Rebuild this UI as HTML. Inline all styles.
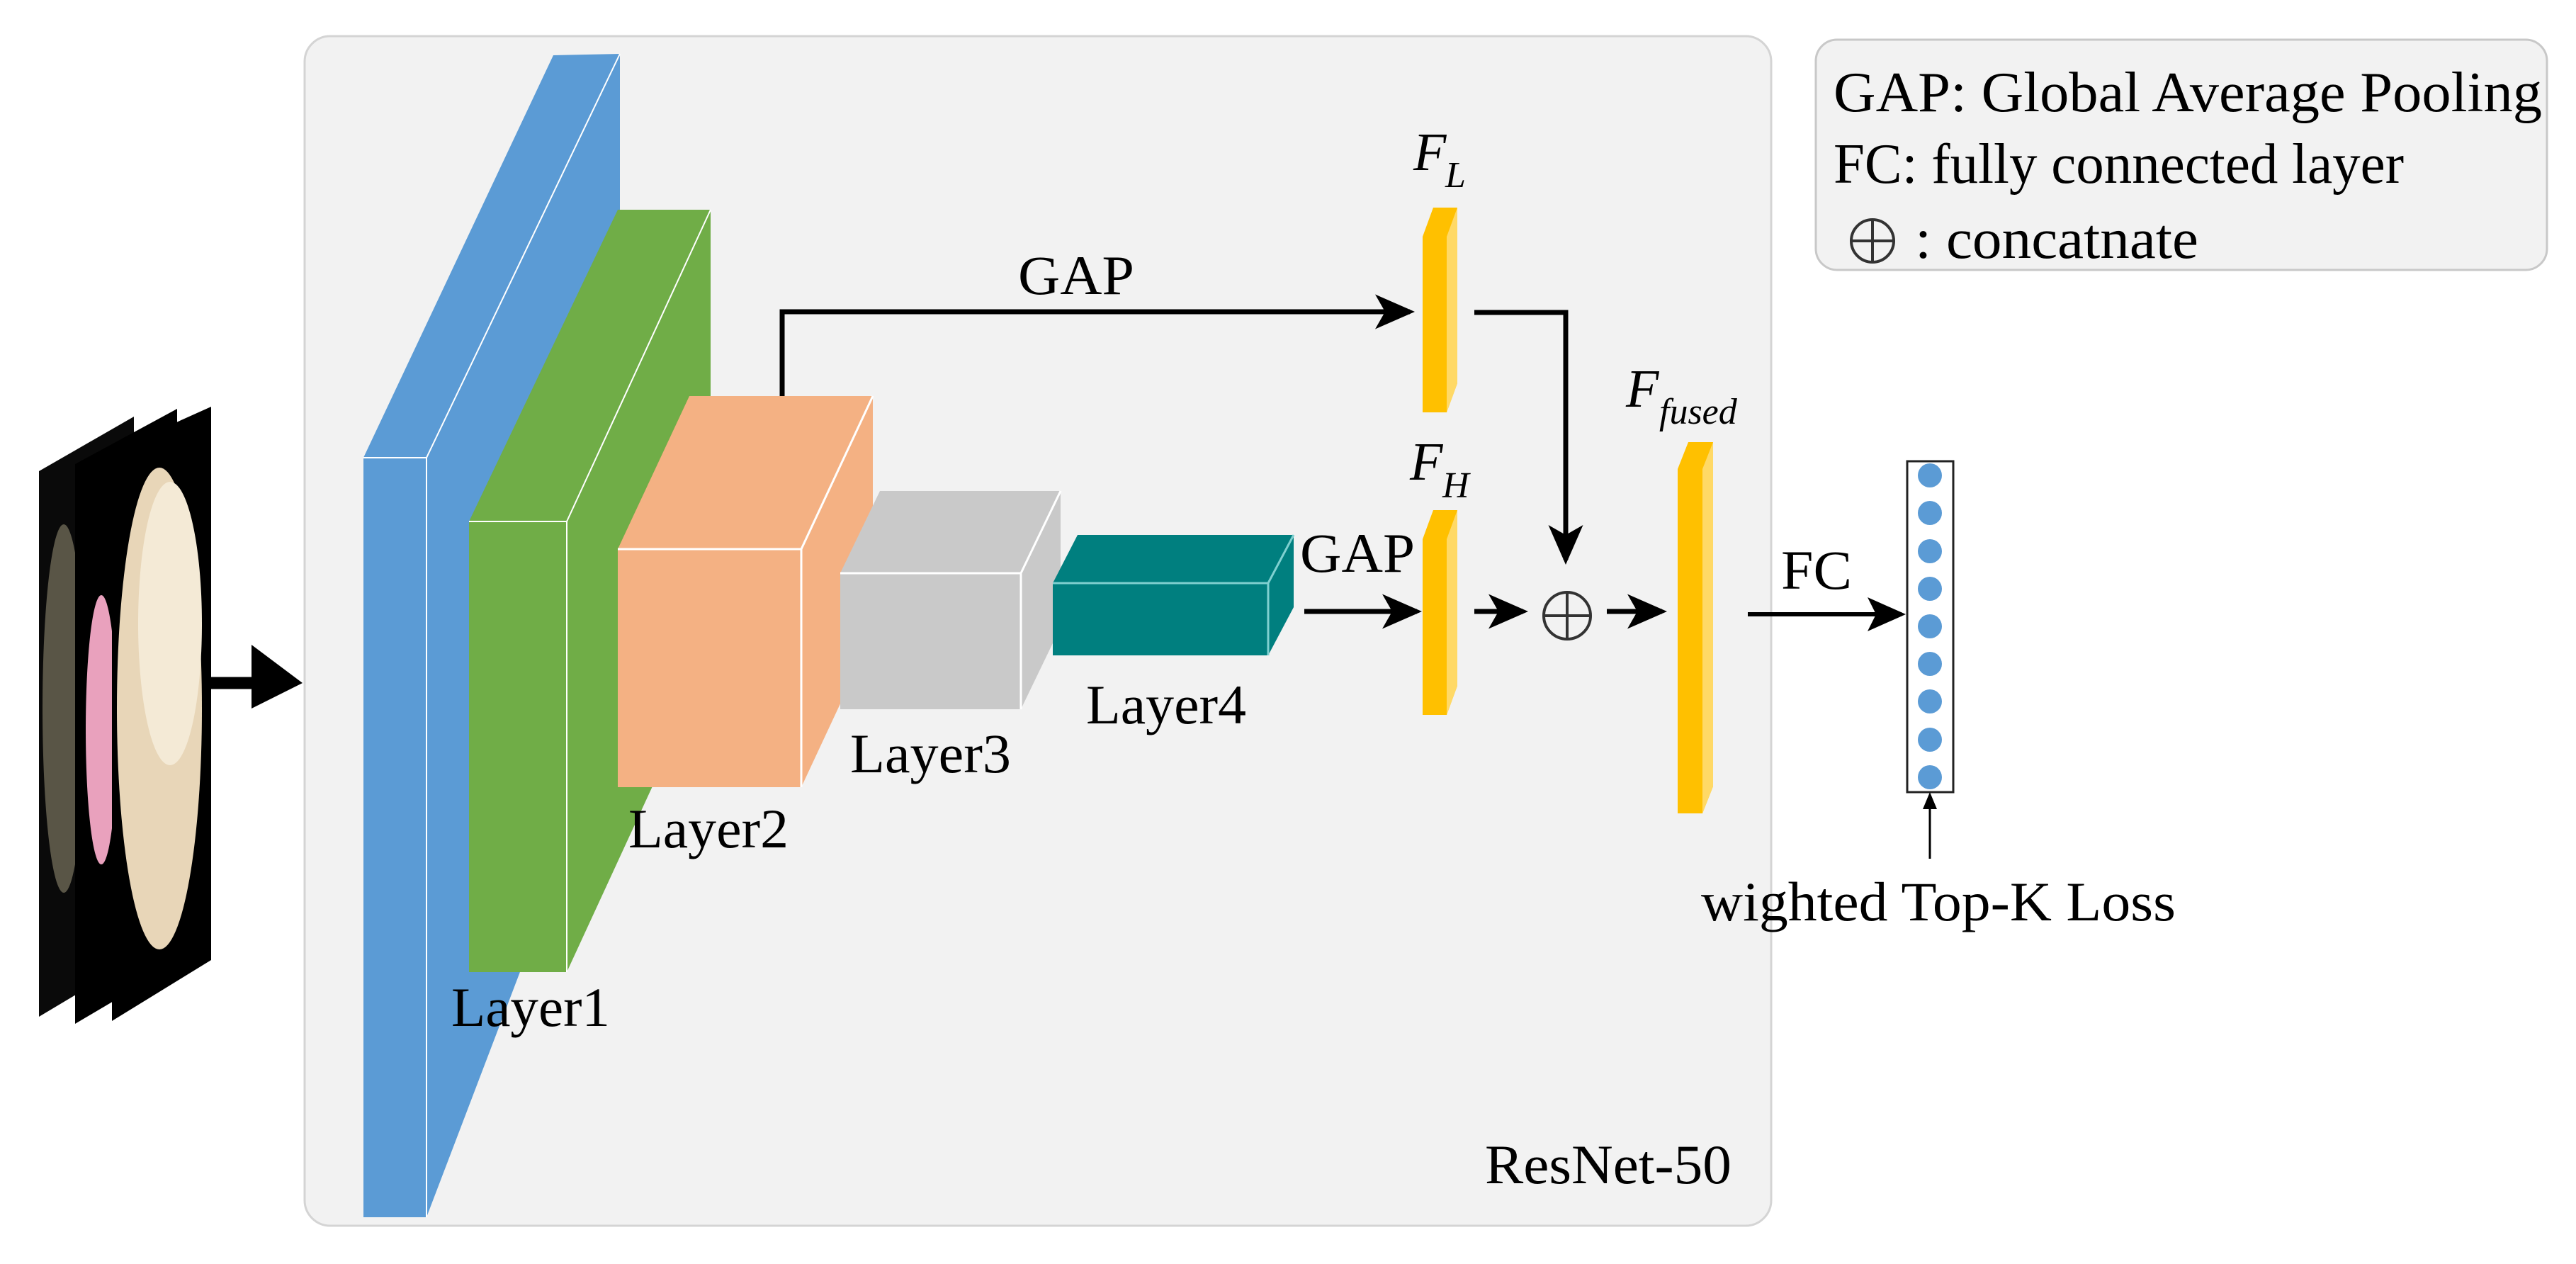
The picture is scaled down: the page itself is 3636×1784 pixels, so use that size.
<!DOCTYPE html>
<html><head><style>html,body{margin:0;padding:0;background:#fff}svg{display:block;font-family:"Liberation Serif","DejaVu Serif",serif}</style></head><body>
<svg width="3636" height="1784" viewBox="0 0 3636 1784" xmlns="http://www.w3.org/2000/svg">
<defs>
<marker id="ah" markerWidth="8" markerHeight="7" refX="7" refY="3.5" orient="auto" markerUnits="strokeWidth"><path d="M0,0 L8,3.5 L0,7 L2,3.5 Z" fill="#000"/></marker>
<marker id="ah2" markerWidth="9" markerHeight="8" refX="8" refY="4" orient="auto" markerUnits="strokeWidth"><path d="M0,0 L9,4 L0,8 L2,4 Z" fill="#000"/></marker>
</defs>
<rect x="0" y="0" width="3636" height="1784" fill="#fff"/>
<rect x="430" y="51" width="2070" height="1679" rx="36" fill="#f2f2f2" stroke="#d4d4d4" stroke-width="3"/>
<rect x="2563" y="56" width="1032" height="325" rx="30" fill="#f2f2f2" stroke="#c8c8c8" stroke-width="3"/>
<text x="2588" y="157" font-size="80" textLength="1000" lengthAdjust="spacingAndGlyphs">GAP: Global Average Pooling</text>
<text x="2588" y="258" font-size="80" textLength="805" lengthAdjust="spacingAndGlyphs">FC: fully connected layer</text>
<circle cx="2643" cy="340" r="30" fill="none" stroke="#333" stroke-width="4"/>
<line x1="2613" y1="340" x2="2673" y2="340" stroke="#333" stroke-width="4"/><line x1="2643" y1="310" x2="2643" y2="370" stroke="#333" stroke-width="4"/>
<text x="2703" y="364" font-size="80" textLength="400" lengthAdjust="spacingAndGlyphs">: concatnate</text>

<g>
<polygon points="55,665 189,588 189,1355 55,1435" fill="#0a0a0a"/>
<ellipse cx="90" cy="1000" rx="30" ry="260" fill="#7a7560" opacity="0.7"/>
<polygon points="106,655 250,577 250,1360 106,1445" fill="#000"/>
<ellipse cx="143" cy="1030" rx="22" ry="190" fill="#e9a1bd"/>
<polygon points="158,637 298,574 298,1355 158,1441" fill="#000"/>
<ellipse cx="225" cy="1000" rx="60" ry="340" fill="#e8d6b8"/>
<ellipse cx="240" cy="880" rx="45" ry="200" fill="#f4ead6"/>
</g>
<line x1="296" y1="964" x2="360" y2="964" stroke="#000" stroke-width="17"/>
<polygon points="355,910 427,964 355,1000" fill="#000"/>

<polygon points="513,646 781,78 875,76 875,1002 602,1718 513,1718" fill="#5b9bd5"/>
<polyline points="513,646 602,646 875,76" fill="none" stroke="#fff" stroke-width="2"/>
<line x1="602" y1="646" x2="602" y2="1718" stroke="#fff" stroke-width="2"/>
<polygon points="662,736 872,296 1003,296 1003,932 800,1372 662,1372" fill="#70ad47"/>
<polyline points="662,736 800,736 1003,296" fill="none" stroke="#fff" stroke-width="2"/>
<line x1="800" y1="736" x2="800" y2="1372" stroke="#fff" stroke-width="2"/>
<polygon points="872,775 973,559 1232,559 1232,895 1131,1111 872,1111" fill="#f4b183"/>
<polyline points="872,775 1131,775 1232,559" fill="none" stroke="#fff" stroke-width="3"/>
<polyline points="1131,775 1131,1111" fill="none" stroke="#fff" stroke-width="3"/>
<polygon points="1186,809 1242,693 1497,693 1497,885 1441,1001 1186,1001" fill="#c9c9c9"/>
<polyline points="1186,809 1441,809 1497,693" fill="none" stroke="#fff" stroke-width="3"/>
<line x1="1441" y1="809" x2="1441" y2="1001" stroke="#fff" stroke-width="3"/>
<polygon points="1486,823 1521,755 1826,755 1826,857 1790,925 1486,925" fill="#007f7f"/>
<polyline points="1486,823 1790,823 1826,755" fill="none" stroke="#7fd0d0" stroke-width="3"/>
<line x1="1790" y1="823" x2="1790" y2="925" stroke="#7fd0d0" stroke-width="3"/>

<g font-size="78">
<text x="637" y="1448" textLength="224" lengthAdjust="spacingAndGlyphs">Layer1</text>
<text x="887" y="1196" textLength="226" lengthAdjust="spacingAndGlyphs">Layer2</text>
<text x="1200" y="1090" textLength="227" lengthAdjust="spacingAndGlyphs">Layer3</text>
<text x="1533" y="1021" textLength="226" lengthAdjust="spacingAndGlyphs">Layer4</text>
<text x="1437" y="415" textLength="164" lengthAdjust="spacingAndGlyphs">GAP</text>
<text x="1835" y="807" textLength="162" lengthAdjust="spacingAndGlyphs">GAP</text>
<text x="2514" y="831" textLength="100" lengthAdjust="spacingAndGlyphs">FC</text>
<text x="2096" y="1670" textLength="348" lengthAdjust="spacingAndGlyphs">ResNet-50</text>
<text x="2401" y="1299" textLength="670" lengthAdjust="spacingAndGlyphs">wighted Top-K Loss</text>
</g>

<polyline points="1104,559 1104,440 1990,440" fill="none" stroke="#000" stroke-width="7" marker-end="url(#ah)"/>
<polygon points="2008,334 2023,293 2057,293 2057,541 2042,582 2008,582" fill="#ffc000"/>
<polygon points="2042,334 2057,293 2057,541 2042,582" fill="#ffd966"/>
<polygon points="2008,761 2023,720 2057,720 2057,968 2042,1009 2008,1009" fill="#ffc000"/>
<polygon points="2042,761 2057,720 2057,968 2042,1009" fill="#ffd966"/>
<polygon points="2368,662 2383,624 2418,624 2418,1110 2403,1148 2368,1148" fill="#ffc000"/>
<polygon points="2403,662 2418,624 2418,1110 2403,1148" fill="#ffd966"/>

<g font-style="italic">
<text x="1995" y="240" font-size="76">F</text><text x="2040" y="264" font-size="52">L</text>
<text x="1990" y="677" font-size="76">F</text><text x="2036" y="702" font-size="52">H</text>
<text x="2295" y="574" font-size="76">F</text><text x="2342" y="598" font-size="52">fused</text>
</g>

<polyline points="2081,441 2210,441 2210,790" fill="none" stroke="#000" stroke-width="7" marker-end="url(#ah)"/>
<line x1="1841" y1="863" x2="2000" y2="863" stroke="#000" stroke-width="7" marker-end="url(#ah)"/>
<line x1="2081" y1="863" x2="2150" y2="863" stroke="#000" stroke-width="7" marker-end="url(#ah)"/>
<circle cx="2212" cy="869" r="33" fill="none" stroke="#333" stroke-width="4"/>
<line x1="2179" y1="869" x2="2245" y2="869" stroke="#333" stroke-width="4"/><line x1="2212" y1="836" x2="2212" y2="902" stroke="#333" stroke-width="4"/>
<line x1="2268" y1="863" x2="2346" y2="863" stroke="#000" stroke-width="7" marker-end="url(#ah)"/>
<line x1="2467" y1="867" x2="2684" y2="867" stroke="#000" stroke-width="6" marker-end="url(#ah2)"/>

<rect x="2692" y="651" width="65" height="467" fill="#fff" stroke="#222" stroke-width="3"/>
<g fill="#5b9bd5">
<circle cx="2724" cy="671" r="17"/><circle cx="2724" cy="724" r="17"/><circle cx="2724" cy="778" r="17"/>
<circle cx="2724" cy="831" r="17"/><circle cx="2724" cy="884" r="17"/><circle cx="2724" cy="937" r="17"/>
<circle cx="2724" cy="990" r="17"/><circle cx="2724" cy="1044" r="17"/><circle cx="2724" cy="1097" r="17"/>
</g>
<line x1="2724" y1="1212" x2="2724" y2="1130" stroke="#000" stroke-width="3"/>
<polygon points="2714,1142 2724,1118 2734,1142" fill="#000"/>
</svg>
</body></html>
